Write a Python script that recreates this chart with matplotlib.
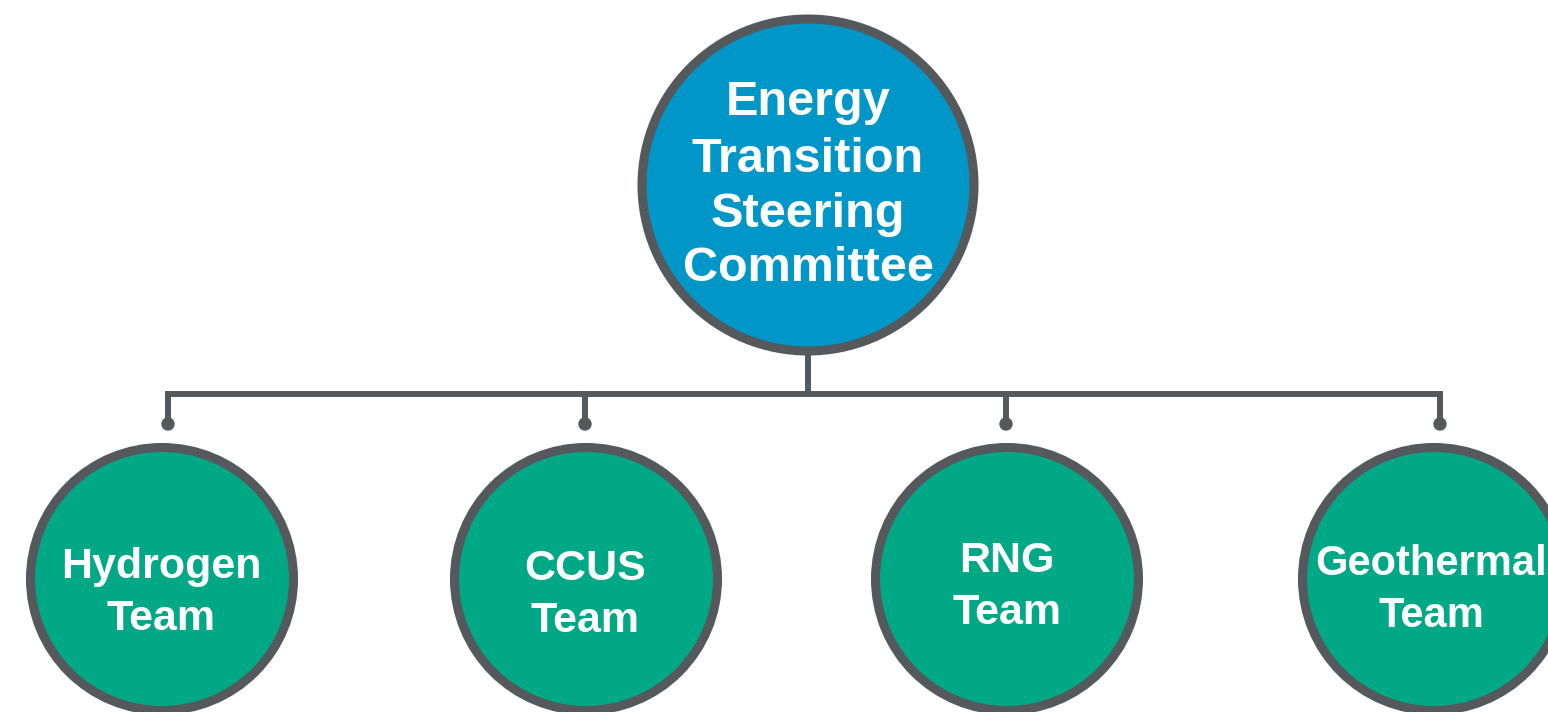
import matplotlib.pyplot as plt
from matplotlib.patches import Circle

# node labels
top_label = ["Energy", "Transition", "Steering", "Committee"]
team_labels = [["Hydrogen", "Team"], ["CCUS", "Team"], ["RNG", "Team"], ["Geothermal", "Team"]]

# layout (pixels, y down)
W, H = 1548, 712
top_c = (808, 185)
top_r = 166
top_base = [115, 172, 227, 281]
team_x = [162, 586, 1007, 1434]
text_x = [161, 585, 1007, 1431]
text_size = [31, 31, 31, 30]
team_y = 579
team_r = 131.5
team_base = [[578, 630], [580, 632], [572, 624], [575, 627]]
drop_x = [168, 585, 1006, 1440]
bar_y = 394
dot_y = 424

BLUE = "#0096c8"
GREEN = "#00a886"
GRAY = "#55595c"
FONT = ["Liberation Sans", "DejaVu Sans"]

fig = plt.figure(figsize=(W / 100, H / 100), dpi=100)
ax = fig.add_axes([0, 0, 1, 1])
ax.set_xlim(0, W)
ax.set_ylim(H, 0)
ax.set_aspect("equal")
ax.axis("off")

# connectors
ax.plot([top_c[0], top_c[0]], [top_c[1] + top_r, bar_y], color=GRAY, lw=4.3, zorder=1)
ax.plot([drop_x[0], drop_x[0], drop_x[-1], drop_x[-1]], [dot_y, bar_y, bar_y, dot_y],
        color=GRAY, lw=4.3, solid_joinstyle="miter", zorder=1)
for x in drop_x[1:-1]:
    ax.plot([x, x], [bar_y, dot_y], color=GRAY, lw=4.3, zorder=1)
for x in drop_x:
    ax.add_patch(Circle((x, dot_y), 6, color=GRAY, zorder=2))

# top circle
ax.add_patch(Circle(top_c, top_r, facecolor=BLUE, edgecolor=GRAY, lw=6.5, zorder=3))
for line, yb in zip(top_label, top_base):
    ax.text(top_c[0], yb, line, color="white", fontsize=35, fontweight="bold",
            family=FONT, ha="center", va="baseline", zorder=4)

# team circles
for x, tx, fs, lines, bases in zip(team_x, text_x, text_size, team_labels, team_base):
    ax.add_patch(Circle((x, team_y), team_r, facecolor=GREEN, edgecolor=GRAY, lw=6.5, zorder=3))
    for line, yb in zip(lines, bases):
        ax.text(tx, yb, line, color="white", fontsize=fs, fontweight="bold",
                family=FONT, ha="center", va="baseline", zorder=4)

fig.savefig("out.png", dpi=100)
